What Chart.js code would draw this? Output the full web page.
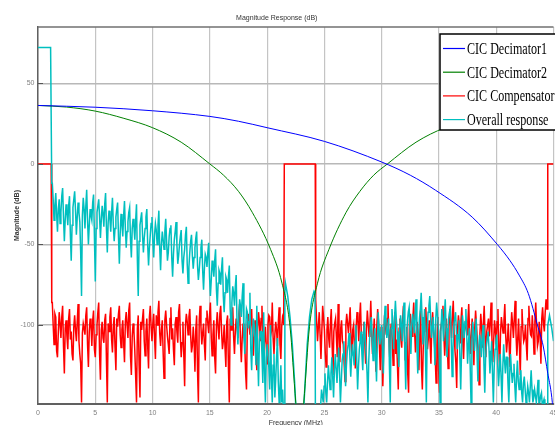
<!DOCTYPE html>
<html>
<head>
<meta charset="utf-8">
<script src="https://cdn.jsdelivr.net/npm/chart.js@4/dist/chart.umd.min.js"></script>
<style>
  html, body { margin: 0; padding: 0; background: #fff; }
  #wrap { width: 555px; height: 425px; }
</style>
</head>
<body>
<div id="wrap"><canvas id="chart" width="555" height="425"></canvas></div>
<script>
// ---- values ----
const xTicks = [0, 5, 10, 15, 20, 25, 30, 35, 40, 45];
const yTicks = [-100, -50, 0, 50];
const seriesNames  = ["CIC Decimator1", "CIC Decimator2", "CIC Compensator", "Overall response"];
const seriesColors = ["#0000ff", "#008000", "#ff0000", "#00bfbf"];

// smooth curves
const dec1Freq = [0, 5, 10, 15, 17.5, 20, 25, 30, 32.5, 34.7, 37.9, 40.1, 41.2, 42, 42.8, 43.6, 44.1, 44.5, 44.8, 45];
const dec1Mag  = [36.3, 35.2, 33, 29.5, 26.5, 22.5, 14, 1.2, -7, -16.3, -33, -50, -60, -69, -80.4, -100, -113, -130, -142, -155];

const dec2Freq = [0, 2.5, 5, 7.5, 10, 12.5, 15, 16.2, 17.5, 18.7, 20.3, 21.3, 22, 22.5, 22.85, 23.2, 23.7, 24.4, 25.4, 26.9, 28.1, 29.3, 30.5, 33, 35.5, 38, 40.5, 43, 45];
const dec2Mag  = [36.3, 35.3, 32.8, 28.3, 22.5, 13.5, 0, -7, -17, -30, -53, -74, -101, -148, -175, -148, -101, -74, -53, -30, -17, -7, 0, 13.5, 22.5, 28.3, 32.8, 35.3, 36.3];

// noise stretches: "A" samples every 0.15 MHz, "A2" samples halfway between them
const noiseStep = 0.15;

// compensator
const compHeadFreq = [0, 1.15, 1.2];
const compHeadMag  = [0, 0, -86];
const compNoiseAStart = 1.25;
const compNoiseA = [
  -86,-112,-95,-120,-92,-108,-88,-130,-97,-115,
  -90,-104,-122,-94,-110,-87,-118,-148,-99,-106,
  -89,-126,-96,-113,-91,-120,-100,-86,-134,-98,
  -111,-93,-148,-104,-89,-117,-95,-128,-101,-88,
  -114,-97,-123,-92,-108,-86,-131,-99,-116,-148,
  -94,-145,-103,-90,-119,-96,-127,-88,-110,-93,
  -121,-100,-85,-113,-97,-133,-91,-107,-118,-89,
  -102,-125,-95,-111,-87,-120,-98,-138,-93,-106,
  -90,-117,-101,-129,-94,-148,-88,-112,-99,-122,
  -91,-105,-86,-119,-97,-130,-92,-109,-88,-115,
  -100,-126,-94,-148,-103,-89,-118,-96,-108,-87,
  -123,-99,-112,-140,-93,-106,-90,-119,-97,-128,
  -92,-110,-88,-116,-101,-124,-94,-107,-86,-118,
  -98,-113,-89,-121,-95
];
const compNoiseA2 = [
  -100,-93,-116,-104,-99,-95,-113,-102,-107,-96,
  -109,-118,-101,-103,-98,-110,-124,-105,-102,-94,
  -112,-104,-100,-97,-115,-106,-92,-118,-103,-108,
  -97,-122,-99,-95,-109,-101,-114,-96,-93,-106,
  -103,-111,-98,-100,-91,-119,-107,-104,-132,-102,
  -125,-98,-96,-110,-104,-113,-95,-101,-99,-108,
  -94,-92,-105,-103,-117,-97,-100,-112,-96,-109,
  -115,-99,-104,-92,-107,-111,-118,-100,-98,-95,
  -106,-113,-110,-103,-128,-97,-101,-105,-112,-96,
  -99,-94,-108,-106,-120,-100,-102,-93,-104,-110,
  -114,-98,-127,-96,-95,-107,-104,-101,-94,-111,
  -108,-105,-130,-99,-100,-97,-109,-103,-116,-102,
  -98,-96,-107,-110,-113,-100,-95,-104,-108,-106,
  -103,-99,-112,-101,-97
];
const compMidFreq = [21.45, 21.5, 24.2, 24.23];
const compMidMag  = [-100, 0, 0, -84];
const compNoiseBStart = 24.25;
const compNoiseB = [
  -84,-110,-92,-121,-88,-103,-126,-95,-114,-90,
  -131,-99,-108,-87,-123,-97,-112,-135,-93,-105,
  -89,-119,-100,-127,-92,-110,-86,-116,-98,-124,
  -91,-107,-85,-118,-96,-129,-90,-112,-101,-138,
  -94,-106,-87,-120,-99,-125,-92,-109,-140,-96,
  -114,-88,-122,-101,-142,-93,-107,-86,-117,-98,
  -128,-91,-140,-104,-89,-115,-97,-124,-92,-110,
  -136,-95,-142,-100,-88,-119,-96,-127,-90,-108,
  -85,-116,-139,-94,-111,-89,-121,-99,-106,-87,
  -118,-96,-125,-91,-109,-137,-93,-114,-88,-120,
  -100,-107,-86,-123,-97,-112,-90,-129,-95,-105,
  -87,-117,-99,-126,-92,-108,-85,-119,-96,-131,
  -90,-110,-100,-122,-88,-106,-94,-118,-86,-113,
  -98,-124,-89,-104,-84
];
const compNoiseB2 = [
  -98,-101,-106,-104,-95,-117,-103,-108,-99,-112,
  -104,-96,-120,-105,-102,-110,-124,-100,-99,-97,
  -108,-103,-114,-101,-97,-95,-107,-106,-111,-102,
  -99,-100,-104,-108,-113,-101,-98,-128,-107,-115,
  -100,-96,-106,-103,-110,-104,-118,-125,-102,-109,
  -97,-105,-111,-130,-98,-100,-96,-104,-107,-113,
  -106,-126,-115,-97,-102,-108,-110,-99,-103,-120,
  -112,-128,-104,-96,-105,-108,-111,-101,-99,-94,
  -106,-123,-103,-100,-97,-110,-104,-101,-98,-105,
  -107,-109,-102,-100,-118,-106,-101,-99,-107,-104,
  -96,-99,-108,-110,-103,-98,-114,-105,-100,-97,
  -106,-110,-112,-104,-99,-96,-105,-109,-113,-101,
  -103,-108,-112,-96,-100,-107,-104,-98,-101,-110,
  -105,-96,-99,-92,-90
];
const compTailFreq = [44.45, 44.5, 45];
const compTailMag  = [-90, 0, 0];

// overall response
const allHeadFreq = [0, 1.1, 1.2];
const allHeadMag  = [72.3, 72.3, -12];
const allNoiseAStart = 1.25;
const allNoiseA = [
  -12,-35,-18,-42,-22,-30,-15,-48,-25,-38,
  -20,-60,-27,-17,-44,-24,-36,-82,-21,-40,
  -16,-50,-28,-35,-19,-73,-30,-22,-46,-26,
  -39,-18,-55,-29,-42,-21,-48,-33,-24,-62,
  -31,-45,-23,-52,-36,-27,-58,-34,-47,-25,
  -82,-38,-30,-55,-40,-28,-63,-44,-33,-58,
  -37,-50,-29,-66,-42,-53,-34,-60,-45,-38,
  -70,-47,-36,-62,-50,-41,-68,-53,-39,-74,
  -55,-44,-65,-52,-42,-72,-58,-47,-78,-56,
  -64,-49,-82,-60,-70,-53,-88,-66,-75,-58,
  -92,-70,-80,-63,-100,-76,-88,-69,-112,-84,
  -95,-74,-118,-90,-102,-80,-128,-96,-110,-88,
  -138,-104,-118,-92,-148,-112,-126,-100,-148,-118,
  -134,-108,-148,-125
];
const allNoiseA2 = [
  -22,-26,-31,-28,-37,-20,-33,-35,-30,-26,
  -44,-38,-22,-29,-33,-30,-55,-32,-28,-26,
  -35,-38,-32,-24,-45,-40,-26,-33,-35,-31,
  -25,-40,-36,-34,-30,-38,-40,-28,-45,-43,
  -37,-32,-40,-42,-30,-47,-40,-39,-35,-60,
  -48,-34,-44,-46,-33,-50,-52,-37,-48,-44,
  -41,-38,-52,-50,-47,-42,-48,-55,-40,-58,
  -56,-42,-50,-57,-45,-60,-58,-44,-62,-64,
  -48,-57,-58,-46,-63,-66,-52,-66,-65,-58,
  -55,-70,-72,-64,-60,-78,-74,-68,-65,-82,
  -80,-72,-70,-90,-86,-80,-76,-100,-96,-88,
  -82,-106,-104,-92,-98,-115,-108,-100,-125,-118,
  -110,-104,-136,-128,-120,-112,-140,-132,-125,-145,
  -120,-135,-140,-148
];
const allLobeFreq = [21.35, 21.5, 21.55, 21.6, 21.8, 22.0, 22.2, 22.4, 22.6, 23.1, 23.3, 23.5, 23.7, 23.9, 24.1, 24.18, 24.22, 24.6, 24.75];
const allLobeMag  = [-140, -165, -80, -74, -82, -95, -112, -135, -165, -165, -138, -112, -95, -84, -79, -80, -165, -160, -140];
const allNoiseBStart = 24.9;
const allNoiseB = [
  -148,-130,-148,-125,-140,-120,-145,-118,-136,-114,
  -148,-122,-110,-138,-116,-105,-132,-112,-125,-100,
  -140,-115,-104,-128,-98,-118,-148,-108,-95,-122,
  -102,-135,-92,-112,-100,-130,-88,-108,-96,-148,
  -90,-115,-85,-104,-126,-94,-110,-86,-140,-98,
  -89,-118,-93,-105,-84,-130,-96,-80,-112,-90,
  -148,-92,-82,-108,-95,-125,-86,-102,-148,-90,
  -110,-84,-120,-96,-88,-132,-100,-92,-115,-97,
  -140,-94,-108,-90,-124,-102,-148,-98,-116,-96,
  -135,-106,-120,-100,-142,-112,-104,-130,-110,-148,
  -115,-106,-138,-118,-148,-112,-130,-120,-148,-118,
  -136,-124,-148,-122,-140,-128,-148,-132,-148,-138,
  -148,-128,-148,-140,-148,-134,-148,-142,-148,-150
];
const allNoiseB2 = [
  -138,-142,-135,-133,-130,-132,-128,-127,-124,-130,
  -135,-118,-126,-125,-112,-120,-120,-118,-110,-122,
  -126,-110,-118,-108,-110,-130,-122,-100,-110,-108,
  -120,-110,-104,-106,-118,-98,-100,-104,-125,-102,
  -100,-96,-96,-115,-104,-100,-94,-116,-108,-92,
  -104,-100,-98,-92,-112,-106,-90,-95,-100,-118,
  -104,-88,-96,-102,-108,-96,-94,-120,-104,-98,
  -94,-102,-108,-92,-110,-114,-96,-104,-106,-120,
  -116,-100,-98,-106,-112,-125,-110,-104,-108,-118,
  -114,-110,-108,-124,-120,-108,-116,-120,-130,-126,
  -110,-124,-128,-132,-126,-122,-120,-136,-130,-128,
  -130,-138,-132,-135,-134,-142,-136,-140,-145,-142,
  -138,-140,-145,-144,-142,-148,-144,-150,-146,-152
];
const allTailFreq = [44.45, 44.5, 44.65, 44.85, 45];
const allTailMag  = [-165, -100, -94, -102, -110];

function pairs(freqs, mags) {
    return freqs.map((f, i) => ({ x: f, y: mags[i] }));
}
// on-grid samples interleaved with the half-step samples
function sampled(start, mags, halfMags) {
    const out = [];
    mags.forEach((m, i) => {
        const f = start + noiseStep * i;
        out.push({ x: +f.toFixed(3), y: m });
        if (i < halfMags.length) out.push({ x: +(f + noiseStep / 2).toFixed(3), y: halfMags[i] });
    });
    return out;
}

const compData = [].concat(
    pairs(compHeadFreq, compHeadMag),
    sampled(compNoiseAStart, compNoiseA, compNoiseA2),
    pairs(compMidFreq, compMidMag),
    sampled(compNoiseBStart, compNoiseB, compNoiseB2),
    pairs(compTailFreq, compTailMag)
);
const allData = [].concat(
    pairs(allHeadFreq, allHeadMag),
    sampled(allNoiseAStart, allNoiseA, allNoiseA2),
    pairs(allLobeFreq, allLobeMag),
    sampled(allNoiseBStart, allNoiseB, allNoiseB2),
    pairs(allTailFreq, allTailMag)
);

const TICK_FONT = { family: "'Liberation Sans', Arial, sans-serif", size: 7 };

// MATLAB-style frame: top edge and inward y ticks
const framePlugin = {
    id: "frame",
    afterDraw(chart) {
        const { ctx, chartArea: a, scales } = chart;
        ctx.save();
        ctx.strokeStyle = "#707070";
        ctx.lineWidth = 1.5;
        ctx.beginPath();
        ctx.moveTo(a.left, a.top);
        ctx.lineTo(a.right, a.top);
        ctx.stroke();
        ctx.strokeStyle = "#555";
        ctx.lineWidth = 1;
        for (const v of yTicks) {
            const y = Math.round(scales.y.getPixelForValue(v)) + 0.5;
            ctx.beginPath();
            ctx.moveTo(a.left, y);
            ctx.lineTo(a.left + 5, y);
            ctx.stroke();
        }
        ctx.restore();
    }
};

// boxed legend in the top-right corner, condensed serif text
const boxLegendPlugin = {
    id: "boxLegend",
    afterDatasetsDraw(chart) {
        const ctx = chart.ctx;
        const left = 440, top = 34, w = 130, h = 96;
        ctx.save();
        ctx.fillStyle = "#fff";
        ctx.fillRect(left, top, w, h);
        ctx.strokeStyle = "#000";
        ctx.lineWidth = 1.5;
        ctx.strokeRect(left, top, w, h);
        ctx.font = "17px 'Liberation Serif', 'Times New Roman', serif";
        ctx.textBaseline = "middle";
        seriesNames.forEach((name, i) => {
            const y = top + 14.5 + i * 23.7;
            ctx.strokeStyle = seriesColors[i];
            ctx.lineWidth = 1.2;
            ctx.beginPath();
            ctx.moveTo(left + 3, y);
            ctx.lineTo(left + 25, y);
            ctx.stroke();
            ctx.save();
            ctx.translate(left + 27, y + 1);
            ctx.scale(0.71, 1);
            ctx.fillStyle = "#000";
            ctx.fillText(name, 0, 0);
            ctx.restore();
        });
        ctx.restore();
    }
};

function lineSet(i, data, smooth, order) {
    return {
        label: seriesNames[i],
        data,
        borderColor: seriesColors[i],
        backgroundColor: seriesColors[i],
        borderWidth: smooth ? 1 : 1.5,
        pointRadius: 0,
        tension: 0,
        cubicInterpolationMode: smooth ? "monotone" : "default",
        fill: false,
        order,
    };
}

new Chart(document.getElementById("chart"), {
    type: "line",
    data: {
        datasets: [
            lineSet(0, pairs(dec1Freq, dec1Mag), true, 0),
            lineSet(1, pairs(dec2Freq, dec2Mag), true, 1),
            lineSet(2, compData, false, 3),
            lineSet(3, allData, false, 2),
        ],
    },
    options: {
        responsive: false,
        animation: false,
        devicePixelRatio: 1,
        layout: { padding: { left: 0, right: 1.5, top: 0, bottom: 0 } },
        plugins: {
            legend: { display: false },
            tooltip: { enabled: false },
            title: {
                display: true,
                text: "Magnitude Response (dB)",
                color: "#333",
                font: { family: "'Liberation Sans', Arial, sans-serif", size: 7, weight: "normal" },
                padding: { top: 14, bottom: 4.6 },
            },
        },
        scales: {
            x: {
                type: "linear",
                min: 0,
                max: 45,
                afterBuildTicks: s => { s.ticks = xTicks.map(v => ({ value: v })); },
                afterFit: s => { s.height = 21; s.paddingLeft = 0; s.paddingRight = 0; },
                ticks: { font: TICK_FONT, color: "#808080", padding: 5, maxRotation: 0 },
                grid: { color: "#c4c4c4", lineWidth: 1.2, drawTicks: false },
                border: { color: "#606060", width: 2 },
                title: {
                    display: true,
                    text: "Frequency (MHz)",
                    color: "#333",
                    font: { family: "'Liberation Sans', Arial, sans-serif", size: 7 },
                    padding: { top: 0, bottom: -2.5 },
                },
            },
            y: {
                type: "linear",
                min: -149,
                max: 85,
                afterBuildTicks: s => { s.ticks = yTicks.map(v => ({ value: v })); },
                afterFit: s => { s.width = 38; },
                ticks: { font: TICK_FONT, color: "#808080", padding: 3.5 },
                grid: { color: "#b8b8b8", lineWidth: 1.4, drawTicks: false },
                border: { color: "#606060", width: 1.5 },
                title: {
                    display: true,
                    text: "Magnitude (dB)",
                    color: "#333",
                    font: { family: "'Liberation Sans', Arial, sans-serif", size: 7, weight: "bold" },
                    padding: { top: 12.5, bottom: 0 },
                },
            },
        },
    },
    plugins: [framePlugin, boxLegendPlugin],
});
</script>
</body>
</html>
